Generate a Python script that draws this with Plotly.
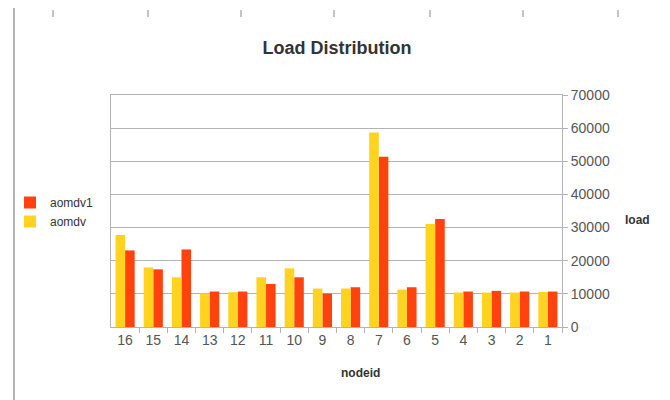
import plotly.graph_objects as go

nodeid = [str(i) for i in range(1, 17)]
aomdv1 = [10700, 10700, 10900, 10700, 32600, 12000, 51400, 12000, 10100, 15000,
          13000, 10700, 10700, 23400, 17400, 23100]
aomdv = [10600, 10400, 10400, 10400, 31100, 11300, 58700, 11600, 11600, 17700,
         15000, 10500, 10100, 15000, 18000, 27750]

W, H = 670, 400
OFF = 8  # page body margin offset
# target plot area in page pixels: x 111..562, y 95..327
L = 111 - OFF
T = 95 - OFF
R = W - (562 - OFF)
B = H - (327 - OFF)
PW, PH = W - L - R, H - T - B


def px(x):
    return (x - OFF - L) / PW


def py(y):
    return (H - B - (y - OFF)) / PH


fig = go.Figure()
fig.add_trace(go.Bar(name="aomdv1", x=nodeid, y=aomdv1, marker_color="#ff420e",
                     marker_line_width=0))
fig.add_trace(go.Bar(name="aomdv", x=nodeid, y=aomdv, marker_color="#ffd320",
                     marker_line_width=0))

shapes = []
# scan artifacts: left vertical rule and top tick marks
shapes.append(dict(type="line", xref="paper", yref="paper", x0=px(14), x1=px(14),
                   y0=py(8), y1=py(410), line=dict(color="#9a9a9a", width=1.5)))
for xt in [53, 148, 241, 334, 430, 523, 618]:
    shapes.append(dict(type="line", xref="paper", yref="paper", x0=px(xt), x1=px(xt),
                       y0=py(10), y1=py(17), line=dict(color="#888888", width=1)))

fig.update_layout(
    width=W, height=H,
    margin=dict(l=L, r=R, t=T, b=B, autoexpand=False),
    paper_bgcolor="white", plot_bgcolor="white",
    font=dict(family="Liberation Sans, Arial, sans-serif", color="#444444"),
    barmode="group", bargap=0.32, bargroupgap=0,
    title=dict(text="<b>Load Distribution</b>", x=px(337), xref="paper",
               xanchor="center", y=1 - (48 - OFF) / H, yanchor="middle",
               font=dict(size=18, color="#333333")),
    xaxis=dict(type="category", autorange="reversed", showgrid=False,
               showline=True, linecolor="#b3b3b3", linewidth=1, mirror=True,
               ticks="outside", tickson="boundaries", ticklen=5, tickcolor="#b3b3b3",
               tickangle=0, tickfont=dict(size=14, color="#555555")),
    yaxis=dict(side="right", range=[0, 70000], dtick=10000, showgrid=True,
               gridcolor="#b3b3b3", gridwidth=1, zeroline=False,
               showline=True, linecolor="#b3b3b3", mirror=True,
               ticks="outside", ticklen=5, tickcolor="#b3b3b3",
               tickfont=dict(size=14, color="#555555"), tickformat="d"),
    legend=dict(x=px(10), y=py(188), xanchor="left", yanchor="top",
                font=dict(size=12, color="#333333"), itemwidth=30,
                bgcolor="rgba(0,0,0,0)", tracegroupgap=0),
    shapes=shapes,
    annotations=[
        dict(text="<b>load</b>", xref="paper", yref="paper", x=px(637), y=py(220),
             xanchor="center", yanchor="middle",
             showarrow=False, font=dict(size=12, color="#333333")),
        dict(text="<b>nodeid</b>", xref="paper", yref="paper", x=px(360), y=py(373),
             xanchor="center", yanchor="middle",
             showarrow=False, font=dict(size=12, color="#333333")),
    ],
)

fig.write_html("out.html")
